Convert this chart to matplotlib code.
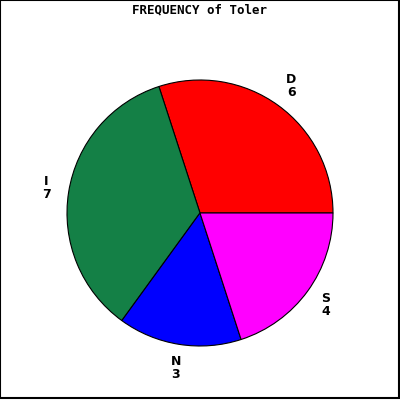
import numpy as np
import matplotlib
matplotlib.use('Agg')
from matplotlib import pyplot as plt
from matplotlib.patches import Rectangle

categories = ['D', 'I', 'N', 'S']
counts = [6, 7, 3, 4]
colors = ['#ff0000', '#148046', '#0000ff', '#ff00ff']

fig = plt.figure(figsize=(4, 4), dpi=100)
ax = fig.add_axes([0, 0, 1, 1])
ax.set_xlim(0, 400)
ax.set_ylim(0, 400)
ax.set_aspect('equal')
ax.axis('off')

cx, cy, r = 200, 187, 133
wedges, _ = ax.pie(counts, colors=colors, startangle=0, counterclock=True,
                   center=(cx, cy), radius=r,
                   wedgeprops={'edgecolor': 'black', 'linewidth': 0.8})
ax.set_xlim(0, 400)
ax.set_ylim(0, 400)

# labels "cat\ncount" just outside each slice
total = sum(counts)
start = 0.0
for cat, n in zip(categories, counts):
    mid = np.deg2rad(start + 360.0 * n / total / 2)
    start += 360.0 * n / total
    x = cx + 1.17 * r * np.cos(mid)
    y = cy + 1.18 * r * np.sin(mid)
    ax.text(x, y, f'{cat}\n{n}', ha='center', va='center', fontsize=9,
            family='DejaVu Sans', fontweight='bold', linespacing=1.0)

fig.text(0.5, 0.975, 'FREQUENCY of Toler', ha='center', va='center',
         fontsize=9, family='DejaVu Sans Mono', fontweight='bold')

fig.add_artist(Rectangle((0, 0.006), 0.997, 0.994, transform=fig.transFigure,
                         fill=False, edgecolor='black', linewidth=1.5))

fig.savefig('out.png', dpi=100)
